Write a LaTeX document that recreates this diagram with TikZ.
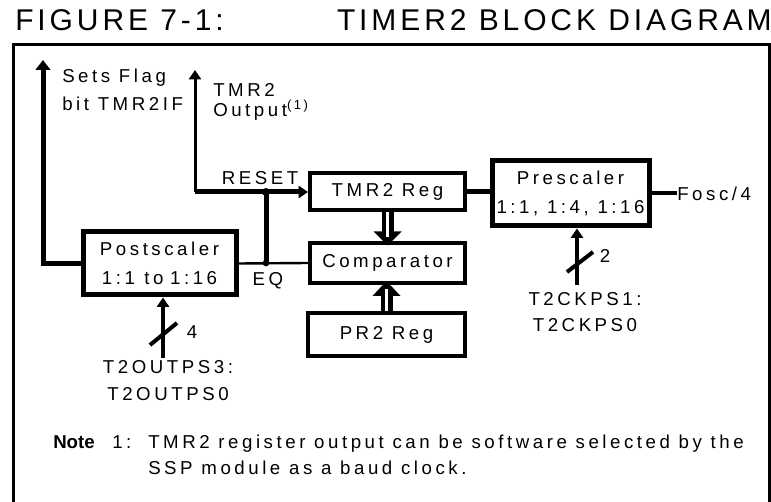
\documentclass[tikz,border=0pt]{standalone}
\usepackage{fontspec}
\setmainfont{Liberation Sans}
\newfontfamily\lblfont[LetterSpace=19]{Liberation Sans}
\newfontfamily\ttlfont[LetterSpace=13]{Liberation Sans}
\usetikzlibrary{arrows.meta}
\begin{document}
\begin{tikzpicture}[x=0.75pt,y=-0.75pt,
  lbl/.style={font=\lblfont\fontsize{14}{21}\selectfont, inner sep=0pt},
  ttl/.style={font=\ttlfont\fontsize{22.5}{26}\selectfont, inner sep=0pt},
  blk/.style={draw, line width=3pt, inner sep=0pt, font=\lblfont\fontsize{14}{21.5}\selectfont, align=center},
  bigblk/.style={blk, line width=3.75pt},
  tipbig/.style={-{Triangle[length=7.5pt,width=11pt]}},
  tipsmall/.style={-{Triangle[length=7pt,width=9pt]}},
  wire/.style={line width=3pt},
  fatwire/.style={line width=3.75pt},
  thinwire/.style={line width=1.8pt},
  dot/.style={circle, fill, inner sep=0pt, minimum size=5pt}
]
\useasboundingbox (0,0) rectangle (771,502);
\clip (0,0) rectangle (771,502);

% title
\node[ttl, anchor=base west] (fig) at (15,31) {FIGURE 7-1:};
\node[ttl, anchor=base east] (ttlr) at (772,31) {TIMER2 BLOCK DIAGRAM};

% frame
\draw[line width=2.25pt] (13,45) rectangle (769,530);

% blocks
\node[blk, minimum width=116.25pt, minimum height=27.75pt] (tmr) at (387.5,192) {TMR2 Reg};
\node[blk, minimum width=116.25pt, minimum height=30pt] (comp) at (387.5,263) {Comparator};
\node[blk, minimum width=117.75pt, minimum height=32.25pt] (pr) at (386.5,334.5) {PR2 Reg};
\node[bigblk, minimum width=114.75pt, minimum height=47.25pt] (post) at (159.5,263.5) {Postscaler\\1:1\hspace{7pt}to\hspace{5pt}1:16};
\node[bigblk, minimum width=117.75pt, minimum height=48.75pt] (pre) at (570.5,193.5) {Prescaler\\1:1, 1:4, 1:16};

% labels
\node[lbl, anchor=west, align=left] (flagtxt) at (62,90) {Sets Flag\\bit TMR2IF};
\node[lbl, anchor=west, align=left, font=\lblfont\fontsize{14}{15.5}\selectfont] (outtxt) at (213,102) {TMR2\\Output\textsuperscript{(1)}};
\node[lbl] (reset) at (260,178) {RESET};
\node[lbl] (eq) at (268,281) {EQ};
\node[lbl, anchor=west] (fosc) at (677,193.5) {Fosc/4};
\node[lbl] (four) at (192,332) {4};
\node[lbl] (two) at (605,256) {2};
\node[lbl, align=center, font=\lblfont\fontsize{14}{20.25}\selectfont] (outps) at (168,381) {T2OUTPS3:\\T2OUTPS0};
\node[lbl, align=center, font=\lblfont\fontsize{14}{19.5}\selectfont] (ckps) at (585,312) {T2CKPS1:\\T2CKPS0};

% note
\node[lbl, anchor=west, font=\bfseries\fontsize{14}{21}\selectfont] (note) at (53,442) {Note};
\node[lbl, anchor=west] (noten) at (112,442) {1:};
\node[lbl, anchor=west, align=left, font=\lblfont\fontsize{14}{19.5}\selectfont] (notetxt) at (148,455) {TMR2 register output can be software selected by the\\SSP module as a baud clock.};

% coordinates
\coordinate (flagtip) at (43,60);
\coordinate (outtip) at (195,70);
\coordinate (corner) at (195,192);
\coordinate (jr) at (266,192);
\coordinate (je) at (266,263);
\coordinate (pssel) at (163,358);
\coordinate (cksel) at (577,285);

% sets flag
\draw[fatwire, tipbig] (post.west) -| (flagtip);
% tmr2 output and reset
\draw[line width=2.25pt, tipsmall] (corner) -- (outtip);
\draw[fatwire, tipsmall] (corner) -- (tmr.west);
% EQ
\draw[thinwire] (comp.west) -- (post.east);
\draw[fatwire] (je) -- (jr);
\node[dot, minimum size=6pt] (jd) at (jr) {};
\node[dot, minimum size=5pt] (jd2) at (je) {};
% tmr2 to prescaler
\draw[fatwire] (tmr.east) -- (tmr.east -| pre.west);
% fosc
\draw[wire] (pre.east) -- (fosc.west);
% selects
\draw[wire, tipsmall] (pssel) -- (post.south -| pssel);
\draw[line width=3pt] (150,345) -- (177,323);
\draw[wire, tipsmall] (cksel) -- (pre.south -| cksel);
\draw[line width=3pt] (567,272) -- (593,252);

% bus arrows
\begin{scope}[shift={(tmr.south)}]
  \fill (-6,0) rectangle (6,21);
  \fill (-14,19) -- (14,19) -- (0,33) -- cycle;
  \draw[white, line width=2.25pt] (0,0) -- (0,25);
\end{scope}
\begin{scope}[shift={(pr.north)}]
  \fill (-6,0) rectangle (6,-17);
  \fill (-14,-15) -- (14,-15) -- (0,-30) -- cycle;
  \draw[white, line width=2.25pt] (0,0) -- (0,-22);
\end{scope}
\end{tikzpicture}
\end{document}
